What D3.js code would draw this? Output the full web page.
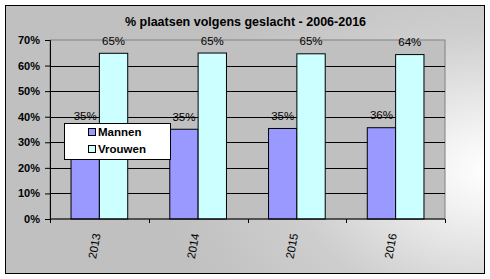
<!DOCTYPE html>
<html>
<head>
<meta charset="utf-8">
<script src="https://cdn.jsdelivr.net/npm/d3@7"></script>
<style>
body{margin:0;padding:0;background:#fff;}
svg{display:block;font-family:"Liberation Sans",Arial,sans-serif;}
.tick text{font-family:"Liberation Sans",Arial,sans-serif;}
</style>
</head>
<body>
<svg id="graph"></svg>
<script>
var years=["2013","2014","2015","2016"]
var seriesNames=["Mannen","Vrouwen"]
var mannen=[35.2,35.1,35.4,35.7]
var vrouwen=[64.8,64.9,64.6,64.3]
var yTicks=[0,10,20,30,40,50,60,70]
var title="% plaatsen volgens geslacht - 2006-2016"
var colors=["#9999ff","#ccffff"]

var screen={width:490,height:279}
var margins={left:50,right:45,top:40,bottom:60}
var graph={
    width:screen.width-margins.left-margins.right,
    height:screen.height-margins.top-margins.bottom
}

var svg=d3.select("#graph")
.attr("width",screen.width)
.attr("height",screen.height)

// background gradient like the excel chart area
var defs=svg.append("defs")
var grad=defs.append("radialGradient")
.attr("id","bg")
.attr("gradientUnits","userSpaceOnUse")
.attr("cx",490).attr("cy",170).attr("r",330)
.attr("gradientTransform","translate(490,170) scale(1,0.7) translate(-490,-170)")
grad.append("stop").attr("offset","0").attr("stop-color","#ffffff")
grad.append("stop").attr("offset","0.18").attr("stop-color","#f2f2f2")
grad.append("stop").attr("offset","0.6").attr("stop-color","#cecece")
grad.append("stop").attr("offset","1").attr("stop-color","#c0c0c0")

svg.append("rect")
.attr("x",5.5).attr("y",5.5)
.attr("width",479).attr("height",268)
.attr("fill","url(#bg)")
.attr("stroke","black")
.attr("stroke-width",1)

var xScale=d3.scaleBand()
.domain(years)
.range([margins.left,margins.left+graph.width])
.paddingInner(0.426)
.paddingOuter(0.213)

var xSub=d3.scaleBand()
.domain(seriesNames)
.range([0,xScale.bandwidth()])

var yScale=d3.scaleLinear()
.domain([0,70])
.range([margins.top+graph.height,margins.top])

// plot area
svg.append("rect")
.attr("x",margins.left).attr("y",margins.top)
.attr("width",graph.width).attr("height",graph.height)
.attr("fill","#c0c0c0")
.attr("stroke","#808080")
.attr("stroke-width",1)

svg.append("g")
.selectAll("line")
.data(yTicks.filter(function(d){return d>0 && d<70}))
.enter()
.append("line")
.attr("x1",margins.left)
.attr("x2",margins.left+graph.width)
.attr("y1",function(d){return Math.round(yScale(d))+0.5})
.attr("y2",function(d){return Math.round(yScale(d))+0.5})
.attr("stroke","black")

var rows=years.map(function(y,i){
    return {year:y,values:[{name:"Mannen",v:mannen[i]},{name:"Vrouwen",v:vrouwen[i]}]}
})

var groups=svg.append("g")
.selectAll("g")
.data(rows)
.enter()
.append("g")
.attr("transform",function(d){return "translate("+xScale(d.year)+",0)"})

groups.selectAll("rect")
.data(function(d){return d.values})
.enter()
.append("rect")
.attr("x",function(d){return xSub(d.name)})
.attr("y",function(d){return yScale(d.v)})
.attr("width",xSub.bandwidth())
.attr("height",function(d){return yScale(0)-yScale(d.v)})
.attr("fill",function(d,i){return colors[i]})
.attr("stroke","black")
.attr("stroke-width",1)

groups.selectAll("text")
.data(function(d){return d.values})
.enter()
.append("text")
.text(function(d){return Math.round(d.v)+"%"})
.attr("x",function(d){return xSub(d.name)+xSub.bandwidth()/2})
.attr("y",function(d){return yScale(d.v)-8.5})
.attr("text-anchor","middle")
.attr("font-size","11.5px")
.attr("fill","black")

// axes
var yAxis=d3.axisLeft(yScale)
.tickValues(yTicks)
.tickSize(5)
.tickPadding(5)
.tickFormat(function(d){return d+"%"})

var ya=svg.append("g")
.attr("transform","translate("+margins.left+",0)")
.call(yAxis)
ya.select(".domain").attr("stroke","black")
ya.selectAll("text").attr("font-size","11px").attr("font-weight","bold").attr("fill","black")

var xa=svg.append("g")
xa.append("line")
.attr("x1",margins.left).attr("x2",margins.left+graph.width)
.attr("y1",yScale(0)).attr("y2",yScale(0))
.attr("stroke","black")
var step=xScale.step()
xa.selectAll("line.tk")
.data(d3.range(years.length+1))
.enter()
.append("line")
.classed("tk",true)
.attr("x1",function(i){return Math.round(margins.left+i*step)+0.5})
.attr("x2",function(i){return Math.round(margins.left+i*step)+0.5})
.attr("y1",yScale(0)).attr("y2",yScale(0)+4)
.attr("stroke","black")

xa.selectAll("text")
.data(years)
.enter()
.append("text")
.text(function(d){return d})
.attr("transform",function(d){
    return "translate("+(xScale(d)+xScale.bandwidth()/2-5)+",246) rotate(-80)"})
.attr("text-anchor","middle")
.attr("dy","0.35em")
.attr("font-size","11.5px")
.attr("fill","black")

// title
svg.append("text")
.text(title)
.attr("x",245.5)
.attr("y",25.5)
.attr("text-anchor","middle")
.attr("font-size","12.5px")
.attr("font-weight","bold")
.attr("fill","black")

// legend
var legend=svg.append("g")
legend.append("rect")
.attr("x",64.5).attr("y",123.5)
.attr("width",106).attr("height",36)
.attr("fill","white")
.attr("stroke","black")

var items=legend.selectAll("g")
.data(seriesNames)
.enter()
.append("g")
.attr("transform",function(d,i){return "translate(88,"+(128+i*17)+")"})
items.append("rect")
.attr("x",0.5).attr("y",0.5)
.attr("width",7).attr("height",7)
.attr("fill",function(d,i){return colors[i]})
.attr("stroke","black")
items.append("text")
.text(function(d){return d})
.attr("x",10)
.attr("y",8)
.attr("font-size","11.5px")
.attr("font-weight","bold")
.attr("fill","black")
</script>
</body>
</html>
